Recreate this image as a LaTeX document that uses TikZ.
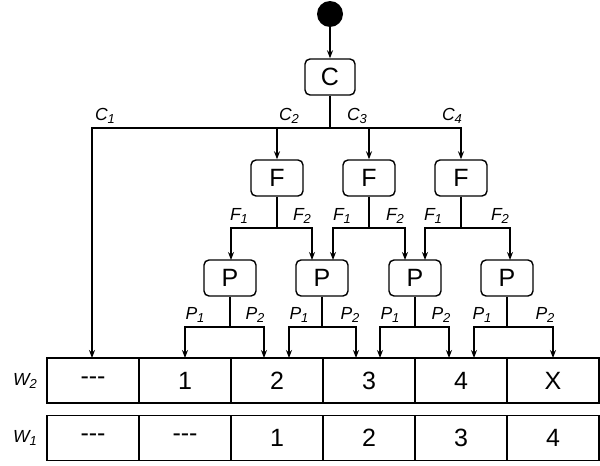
\documentclass[tikz,border=0pt]{standalone}
\usepackage{fontspec}
\setmainfont{Liberation Sans}
\usetikzlibrary{arrows.meta}
\newcommand{\lb}[2]{#1\raisebox{-0.25ex}{\fontsize{13}{14}\selectfont #2}}
\begin{document}
\begin{tikzpicture}[x=1pt,y=-1pt,line width=1.4pt,
  blk/.style={draw,rounded corners=5pt,minimum width=52pt,minimum height=36pt,inner sep=0pt,font=\fontsize{25}{26}\selectfont},
  cellbox/.style={draw,minimum width=92pt,minimum height=45pt,inner sep=0pt,font=\fontsize{25}{26}\selectfont},
  lab/.style={font=\fontsize{17.5}{18}\selectfont\itshape,inner sep=0pt},
  arr/.style={-{Stealth[length=8pt,width=6pt]}}]
\useasboundingbox (0,0) rectangle (600,466);
\fill (330,14) circle (13pt) node (start) {};
\node[blk,minimum width=50pt] (c) at (330,77) {C};
\draw[arr] (330,27) -- (c.north);
\coordinate (cj) at (330,128);
\coordinate (cl) at (92,128);
\node[blk] (f1) at (277,178) {F};
\node[blk] (f2) at (369,178) {F};
\node[blk] (f3) at (461,178) {F};
\draw (c.south) -- (cj);
\draw[arr] (cj) -- (cl) -- (92,358);
\draw[arr] (277,128) -- (f1.north);
\draw[arr] (cj) -| (f2.north);
\draw[arr] (f2.north |- cj) -| (f3.north);
\node[lab,anchor=south] at (105,124) {\lb{C}{1}};
\node[lab,anchor=south] at (289,124) {\lb{C}{2}};
\node[lab,anchor=south] at (357,124) {\lb{C}{3}};
\node[lab,anchor=south] at (452,124) {\lb{C}{4}};
\node[blk] (p1) at (230,278) {P};
\node[blk] (p2) at (322,278) {P};
\node[blk] (p3) at (415,278) {P};
\node[blk] (p4) at (507,278) {P};
\foreach \f/\a/\b in {f1/231/312,f2/333/405,f3/425/510}{
  \draw (\f.south) -- (\f.south |- 0,228);
  \draw[arr] (\f.south |- 0,228) -- (\a,228) -- (\a,260);
  \draw[arr] (\f.south |- 0,228) -- (\b,228) -- (\b,260);
}
\foreach \x/\y in {239/1,302/2,342/1,395/2,433/1,500/2}{
  \node[lab,anchor=south] at (\x,224) {\lb{F}{\y}};
}
\foreach \t [count=\i from 0] in {{-}{-}{-},1,2,3,4,X}{
  \node[cellbox] (w2\i) at (93+92*\i,380.5) {\t};
}
\foreach \t [count=\i from 0] in {{-}{-}{-},{-}{-}{-},1,2,3,4}{
  \node[cellbox] (w1\i) at (93+92*\i,438) {\t};
}
\node[lab] at (25,381) {\lb{W}{2}};
\node[lab] at (25,438) {\lb{W}{1}};
\foreach \p/\a/\b in {p1/185/264,p2/289/356,p3/380/449,p4/474/553}{
  \draw (\p.south) -- (\p.south |- 0,327);
  \draw[arr] (\p.south |- 0,327) -- (\a,327) -- (\a,358);
  \draw[arr] (\p.south |- 0,327) -- (\b,327) -- (\b,358);
}
\foreach \x/\y in {195/1,255/2,299/1,350/2,390/1,441/2,482/1,545/2}{
  \node[lab,anchor=south] at (\x,323) {\lb{P}{\y}};
}
\end{tikzpicture}
\end{document}
